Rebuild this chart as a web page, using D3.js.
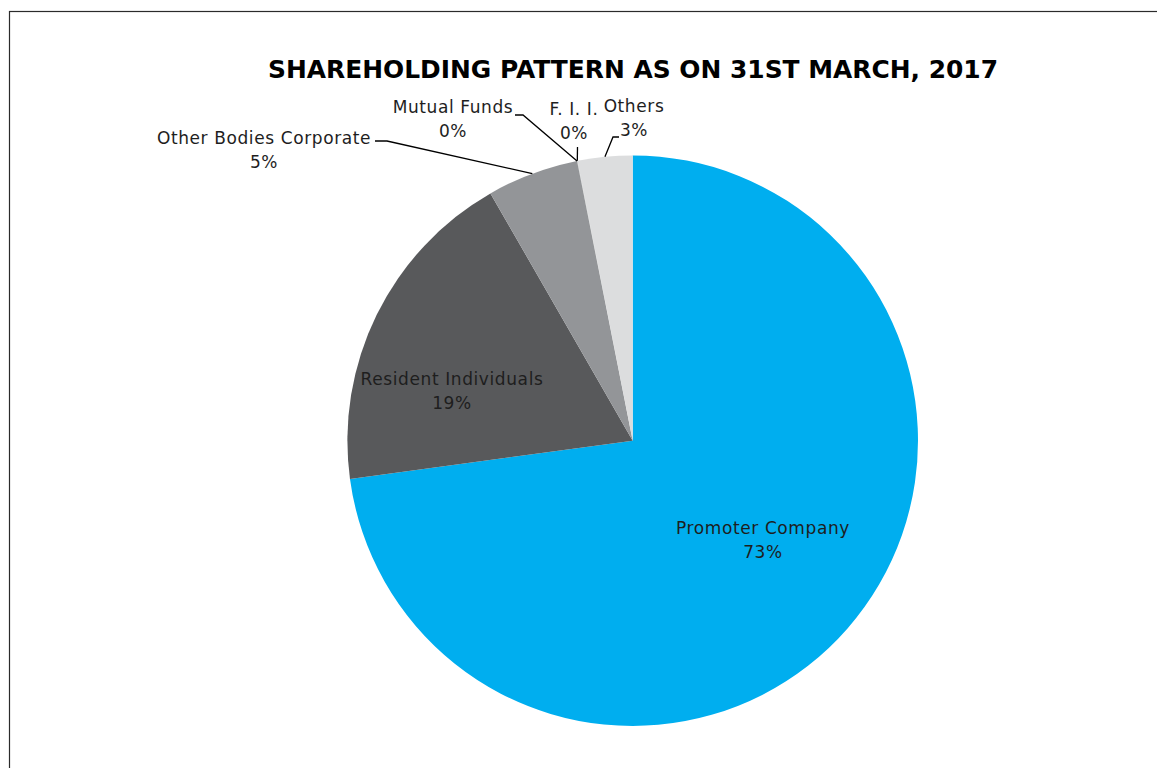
<!DOCTYPE html>
<html>
<head>
<meta charset="utf-8">
<script src="https://cdn.jsdelivr.net/npm/d3@7"></script>
<style>
  body { margin: 0; background: #fff; }
  svg { display: block; }
</style>
</head>
<body>
<div id="chart"></div>
<script>
// shareholding as on 31st March 2017
const categories = ["Promoter Company", "Resident Individuals", "Other Bodies Corporate", "Mutual Funds", "F. I. I.", "Others"];
const values = [72.86, 18.83, 5.18, 0.01, 0.02, 3.10];
const sliceColors = ["#00aeef", "#58595b", "#939598", "#6d6e71", "#bcbec0", "#dcddde"];
const title = "SHAREHOLDING PATTERN AS ON 31ST MARCH, 2017";

// label placement (centre x, first baseline) and leader start points
const labelLayout = [
    { x: 763, y: 534, leader: null },
    { x: 452, y: 385, leader: null },
    { x: 264, y: 144, leader: [[375, 141], [387, 141]] },
    { x: 453, y: 113, leader: [[515, 115], [523, 115]] },
    { x: 574, y: 115, leader: [[577.5, 147]] },
    { x: 634, y: 112, leader: [[619, 137], [613, 137]] }
];

const width = 1157, height = 768;
const cx = 632.7, cy = 440.7, radius = 285.3;

const svg = d3.select("#chart").append("svg")
    .attr("width", width)
    .attr("height", height);

// outer frame (runs off the right / bottom edge)
svg.append("rect")
    .attr("x", 9.5).attr("y", 11.5)
    .attr("width", 1200).attr("height", 800)
    .attr("fill", "none")
    .attr("stroke", "#2b2b2b")
    .attr("stroke-width", 1.2);

svg.append("text")
    .attr("x", 633).attr("y", 78)
    .attr("text-anchor", "middle")
    .attr("font-family", "'DejaVu Sans', sans-serif")
    .attr("font-weight", "bold")
    .attr("font-size", 25)
    .attr("textLength", 730)
    .attr("lengthAdjust", "spacingAndGlyphs")
    .attr("fill", "#000")
    .text(title);

const total = d3.sum(values);
const fmt = d3.format(".0%");

const data = categories.map((c, i) => ({ name: c, value: values[i], i: i }));

const pie = d3.pie().value(d => d.value).sort(null);
const arcs = pie(data);

const arc = d3.arc().innerRadius(0).outerRadius(radius);
const edge = d3.arc().innerRadius(radius).outerRadius(radius);

const g = svg.append("g").attr("transform", `translate(${cx},${cy})`);

g.selectAll("path.slice")
    .data(arcs)
    .join("path")
    .attr("class", "slice")
    .attr("d", arc)
    .attr("fill", d => sliceColors[d.data.i]);

// leader lines
svg.append("g")
    .attr("fill", "none")
    .attr("stroke", "#000")
    .attr("stroke-width", 1.3)
    .selectAll("path")
    .data(arcs.filter(d => labelLayout[d.data.i].leader))
    .join("path")
    .attr("d", d => {
        const p = edge.centroid(d);
        const pts = labelLayout[d.data.i].leader.concat([[p[0] + cx, p[1] + cy]]);
        return d3.line()(pts);
    });

// labels
const labels = svg.append("g")
    .attr("font-family", "'DejaVu Sans', sans-serif")
    .attr("font-size", 17)
    .attr("letter-spacing", 0.6)
    .attr("fill", "#1e1e1e")
    .attr("text-anchor", "middle")
    .selectAll("text")
    .data(arcs)
    .join("text")
    .attr("x", d => labelLayout[d.data.i].x)
    .attr("y", d => labelLayout[d.data.i].y);

labels.append("tspan")
    .attr("x", d => labelLayout[d.data.i].x)
    .text(d => d.data.name);

labels.append("tspan")
    .attr("x", d => labelLayout[d.data.i].x)
    .attr("dy", 24)
    .text(d => fmt(d.data.value / total));
</script>
</body>
</html>
